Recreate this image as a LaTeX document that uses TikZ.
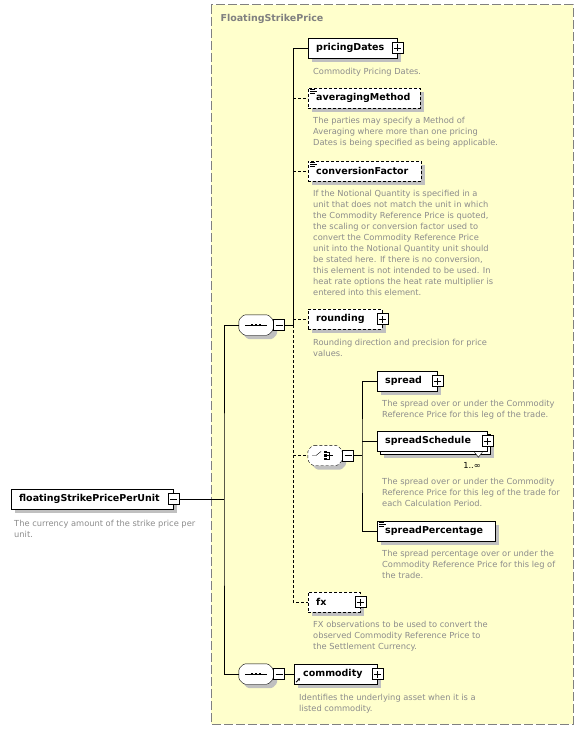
\documentclass[tikz,border=0pt]{standalone}
\usepackage{fontspec}
\setmainfont{DejaVu Sans}
\usetikzlibrary{shadows, positioning, arrows.meta}
\definecolor{schemayellow}{HTML}{FFFFCC}
\definecolor{notegray}{HTML}{8C8C8C}
\definecolor{framegray}{HTML}{808080}
\definecolor{shadowgray}{HTML}{C0C0C0}

\tikzset{
  elembase/.style={draw, fill=white, anchor=west, minimum height=20pt, inner xsep=8pt, inner ysep=0pt,
    text width=#1, align=left, font=\fontsize{9.5}{11}\selectfont\bfseries,
    execute at begin node={\hyphenpenalty10000\relax}},
  elem/.style={elembase=#1, drop shadow={shadow xshift=4pt, shadow yshift=-4pt, fill=shadowgray, opacity=1}},
  optelem/.style={elem=#1, dash pattern=on 3pt off 2pt},
  stackelem/.style={elembase=#1, drop shadow={shadow xshift=7pt, shadow yshift=-7pt, fill=shadowgray, opacity=1},
    copy shadow={shadow xshift=3pt, shadow yshift=-3pt}},
  compbox/.style={minimum width=34pt, minimum height=20pt, inner sep=0pt},
  optline/.style={dash pattern=on 3pt off 2pt},
  note/.style={anchor=north west, yshift=3.5pt, inner sep=0pt, align=left, text=notegray,
    font=\fontsize{8.3}{11}\selectfont},
  plusbox/.style={draw, fill=white, minimum size=11pt, inner sep=0pt, line width=0.8pt,
    path picture={\draw[line width=0.8pt] (path picture bounding box.center) +(-3.5pt,0) -- +(3.5pt,0) +(0,-3.5pt) -- +(0,3.5pt);}},
  minusbox/.style={draw, fill=white, minimum size=11pt, inner sep=0pt, line width=0.8pt,
    path picture={\draw[line width=0.8pt] (path picture bounding box.center) +(-3.5pt,0) -- +(3.5pt,0);}}
}

% compositor outline with its shadow
\newcommand{\octpath}[1]{([xshift=5pt]#1.north west) -- ([xshift=-5pt]#1.north east) -- ([yshift=-5pt]#1.north east)
  -- ([yshift=5pt]#1.south east) -- ([xshift=-5pt]#1.south east) -- ([xshift=5pt]#1.south west)
  -- ([yshift=5pt]#1.south west) -- ([yshift=-5pt]#1.north west) -- cycle}
\newcommand{\compshape}[2][]{%
  \fill[shadowgray, rounded corners=1.5pt, transform canvas={shift={(4pt,-4pt)}}] \octpath{#2};
  \draw[fill=white, rounded corners=1.5pt, #1] \octpath{#2};}
% small icons
\newcommand{\simpleicon}[1]{%
  \draw[line width=0.7pt] ([xshift=2pt,yshift=-2pt]#1.north west) -- ++(5pt,0)
    ([xshift=2pt,yshift=-4pt]#1.north west) -- ++(7pt,0)
    ([xshift=2pt,yshift=-6pt]#1.north west) -- ++(5pt,0);}
\newcommand{\seqicon}[1]{%
  \draw ([xshift=-11pt]#1.center) -- ([xshift=11pt]#1.center);
  \foreach \dx in {-4,0,4} \fill ([xshift=\dx pt]#1.center) +(-1.4pt,-1.4pt) rectangle +(1.4pt,1.4pt);}

\begin{document}
\begin{tikzpicture}[x=1pt, y=-1pt]
\path[use as bounding box, fill=white] (0,0) rectangle (584,730);

% complex type frame
\draw[draw=framegray, fill=schemayellow, dash pattern=on 9pt off 3pt, line width=1pt] (211,5) rectangle (573,724);
\node[anchor=west, text=framegray, font=\fontsize{9.5}{11}\selectfont\bfseries] (fsptitle) at (217,19) {FloatingStrikePrice};

% root element
\node[elem=146pt] (fsppu) at (11,499) {floatingStrikePricePerUnit};
\node[minusbox] (fsppu-) at (fsppu.east) {};
\node[note] (fsppunote) at (14,523) {The currency amount of the strike price per\\unit.};

% first sequence
\node[compbox] (seqA) at (256,325) {};
\compshape{seqA}
\seqicon{seqA}
\node[minusbox, anchor=west] (seqA-) at (seqA.east) {};

\node[elem=73pt] (pd) at (308,48) {pricingDates};
\node[plusbox] (pd+) at (pd.east) {};
\node[note] (pdnote) at (313,71) {Commodity Pricing Dates.};

\node[optelem=96pt] (am) at (308,98) {averagingMethod};
\simpleicon{am}
\node[note] (amnote) at (313,120) {The parties may specify a Method of\\Averaging where more than one pricing\\Dates is being specified as being applicable.};

\node[optelem=97pt] (cf) at (308,171) {conversionFactor};
\simpleicon{cf}
\node[note] (cfnote) at (313,193) {If the Notional Quantity is specified in a\\unit that does not match the unit in which\\the Commodity Reference Price is quoted,\\the scaling or conversion factor used to\\convert the Commodity Reference Price\\unit into the Notional Quantity unit should\\be stated here. If there is no conversion,\\this element is not intended to be used. In\\heat rate options the heat rate multiplier is\\entered into this element.};

\node[optelem=58pt] (rd) at (308,319) {rounding};
\node[plusbox] (rd+) at (rd.east) {};
\node[note] (rdnote) at (313,342) {Rounding direction and precision for price\\values.};

% choice
\node[compbox] (choice) at (325,455.5) {};
\compshape[optline]{choice}
\begin{scope}[shift={(choice.center)}]
  \draw (-13,0) -- (-9,0) -- (-4,-4);
  \foreach \dy in {-3.5,0,3.5} \fill (0.5,\dy) +(-1.4,-1.4) rectangle +(1.4,1.4);
  \draw (0.5,-3.5) -| (4,3.5) -- (0.5,3.5) (0.5,0) -- (8,0);
\end{scope}
\node[minusbox, anchor=west] (choice-) at (choice.east) {};

\node[elem=44pt] (sp) at (377,381) {spread};
\node[plusbox] (sp+) at (sp.east) {};
\node[note] (spnote) at (382,403) {The spread over or under the Commodity\\Reference Price for this leg of the trade.};

\node[stackelem=94pt] (ss) at (377,441) {spreadSchedule};
\node[plusbox] (ss+) at (ss.east) {};
\draw[fill=white] ([xshift=-13pt,yshift=-1pt]ss.south east) -- ++(4pt,-5pt) -- ++(4pt,5pt);
\node[font=\fontsize{8.3}{10}\selectfont] (ssmult) at (472,465) {1..∞};
\node[note] (ssnote) at (382,481) {The spread over or under the Commodity\\Reference Price for this leg of the trade for\\each Calculation Period.};

\node[elem=102pt] (spp) at (377,531) {spreadPercentage};
\simpleicon{spp}
\node[note] (sppnote) at (382,553) {The spread percentage over or under the\\Commodity Reference Price for this leg of\\the trade.};

\node[optelem=36pt] (fx) at (308,602) {fx};
\node[plusbox] (fx+) at (fx.east) {};
\node[note] (fxnote) at (313,624) {FX observations to be used to convert the\\observed Commodity Reference Price to\\the Settlement Currency.};

% second sequence
\node[compbox] (seqB) at (256,674) {};
\compshape{seqB}
\seqicon{seqB}
\node[minusbox, anchor=west] (seqB-) at (seqB.east) {};

\node[elem=67pt] (com) at (294,674) {\hspace*{1pt}commodity};
\node[plusbox] (com+) at (com.east) {};
\draw[-{Stealth[length=2.5pt,width=3pt]}, line width=0.8pt] ([xshift=2pt,yshift=2pt]com.south west) -- ++(4pt,4pt);
\node[note] (comnote) at (299,697) {Identifies the underlying asset when it is a\\listed commodity.};

% connectors
\coordinate (fork) at (224,499);
\coordinate (seqfork) at (293,325);
\coordinate (chfork) at (362,455.5);
\draw (fsppu-.east) -- (fork);
\draw (seqA.west) -| (fork) |- (seqB.west);
\draw (seqA-.east) -- (seqfork) |- (pd.west);
\draw[optline] (seqfork) |- (fx.west);
\draw[optline] (seqfork |- am.west) -- (am.west);
\draw[optline] (seqfork |- cf.west) -- (cf.west);
\draw[optline] (seqfork |- rd.west) -- (rd.west);
\draw[optline] (seqfork |- choice.west) -- (choice.west);
\draw (choice-.east) -- (chfork);
\draw (sp.west) -| (chfork) |- (spp.west);
\draw (chfork |- ss.west) -- (ss.west);
\draw (seqB-.east) -- (com.west);
\end{tikzpicture}
\end{document}
